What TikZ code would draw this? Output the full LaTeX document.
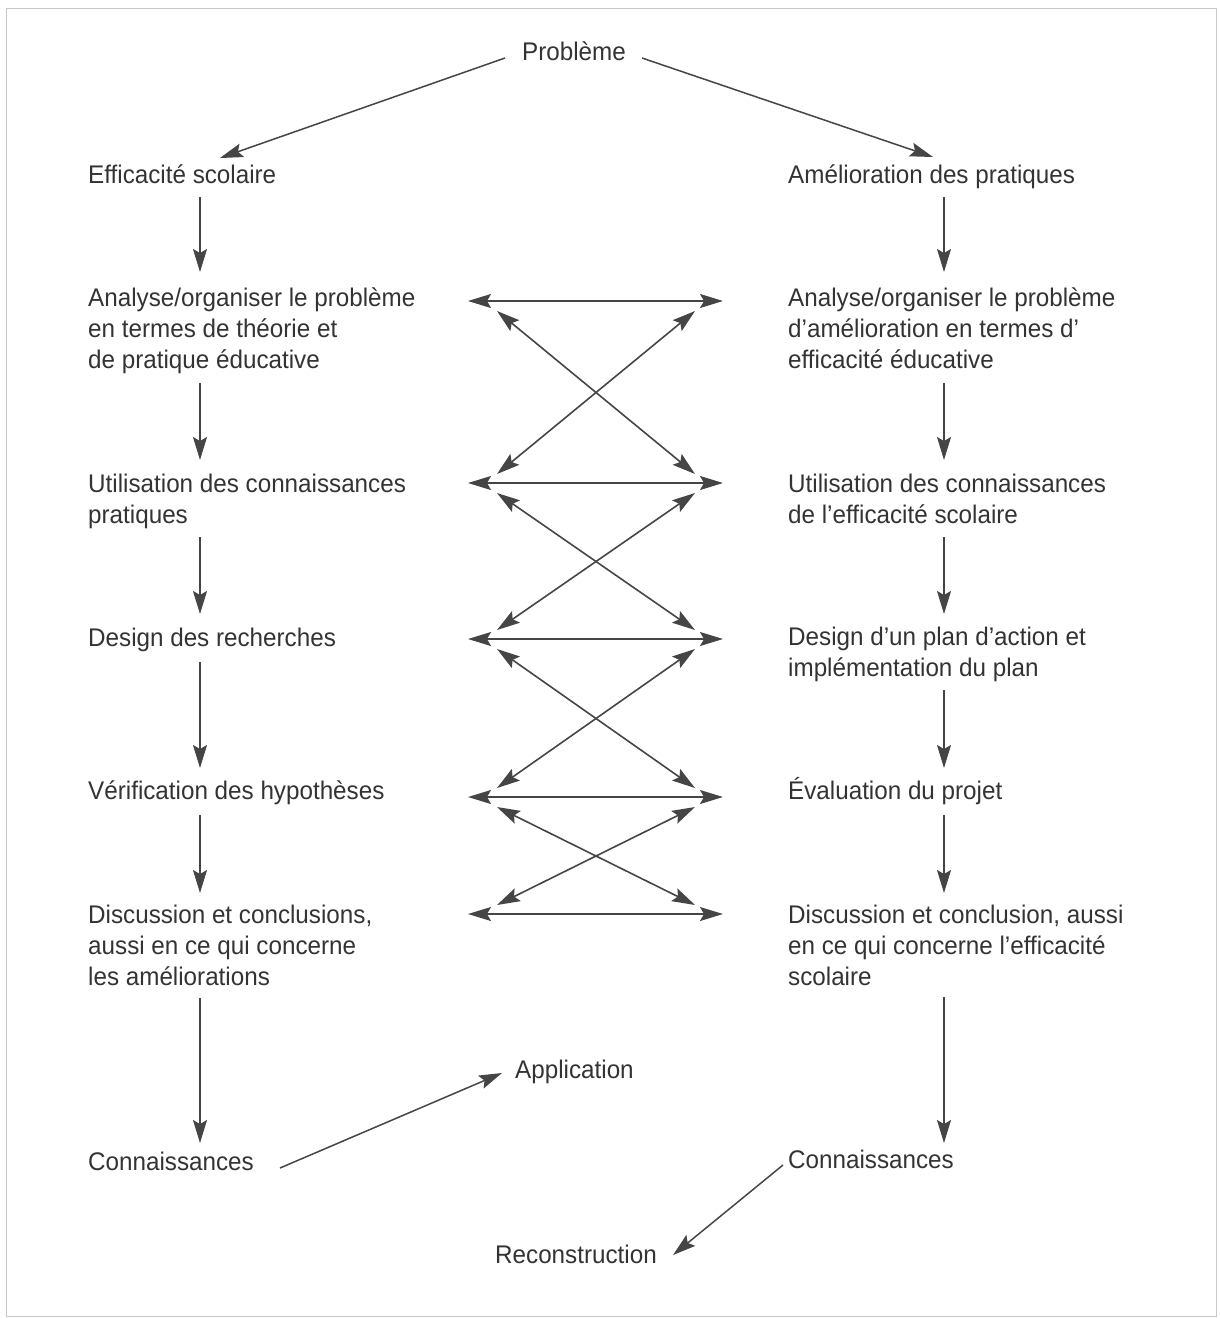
\documentclass[tikz,border=0pt]{standalone}
\usepackage{fontspec}
\setmainfont[FakeStretch=0.95]{Liberation Sans}
\usetikzlibrary{arrows.meta,calc}
\definecolor{ink}{HTML}{333333}
\definecolor{lineink}{HTML}{454545}
\definecolor{framec}{HTML}{C8C8C8}
\begin{document}
\begin{tikzpicture}[x=1pt,y=-1pt,
  lbl/.style={anchor=base west,inner sep=0pt,align=left,text=ink,font=\fontsize{25.5}{31}\selectfont},
  tip/.tip={Stealth[length=23pt,width=14pt,inset=4pt]},
  arr/.style={draw=lineink,line width=1.5pt,-tip},
  darr/.style={draw=lineink,line width=1.6pt,tip-tip}]
\useasboundingbox (0,0) rectangle (1219,1318);
\draw[framec,line width=1pt] (6,8) rectangle (1216,1316);

% columns
\coordinate (colL) at (200,0);
\coordinate (colR) at (944,0);

% texts (multi-line nodes are placed by the baseline of their last line)
\node[lbl] (prob) at (522,60) {Problème};
\node[lbl] (effL) at (88,183) {Efficacité scolaire};
\node[lbl] (effR) at (788,183) {Amélioration des pratiques};
\node[lbl] (anaL) at (88,368) {Analyse/organiser le problème\\en termes de théorie et\\de pratique éducative};
\node[lbl] (anaR) at (788,368) {Analyse/organiser le problème\\d’amélioration en termes d’\\efficacité éducative};
\node[lbl] (utiL) at (88,523) {Utilisation des connaissances\\pratiques};
\node[lbl] (utiR) at (788,523) {Utilisation des connaissances\\de l’efficacité scolaire};
\node[lbl] (desL) at (88,646) {Design des recherches};
\node[lbl] (desR) at (788,676) {Design d’un plan d’action et\\implémentation du plan};
\node[lbl] (verL) at (88,799) {Vérification des hypothèses};
\node[lbl] (verR) at (788,799) {Évaluation du projet};
\node[lbl] (disL) at (88,985) {Discussion et conclusions,\\aussi en ce qui concerne\\les améliorations};
\node[lbl] (disR) at (788,985) {Discussion et conclusion, aussi\\en ce qui concerne l’efficacité\\scolaire};
\node[lbl] (conL) at (88,1170) {Connaissances};
\node[lbl] (conR) at (788,1168) {Connaissances};
\node[lbl] (app) at (515,1078) {Application};
\node[lbl] (rec) at (495,1263) {Reconstruction};

% top arrows
\draw[arr] ($(prob.base west)+(-17,-2)$) -- ($(effL.base west)+(132,-25)$);
\draw[arr] ($(prob.base west)+(120,-2)$) -- ($(effR.base west)+(145,-26)$);

% left column
\draw[arr] ($(effL.base west -| colL)+(0,14)$) -- ($(anaL.base west -| colL)+(0,-96)$);
\draw[arr] ($(anaL.base west -| colL)+(0,15)$) -- ($(utiL.base west -| colL)+(0,-63)$);
\draw[arr] ($(utiL.base west -| colL)+(0,14)$) -- ($(desL.base west -| colL)+(0,-32)$);
\draw[arr] ($(desL.base west -| colL)+(0,16)$) -- ($(verL.base west -| colL)+(0,-31)$);
\draw[arr] ($(verL.base west -| colL)+(0,16)$) -- ($(disL.base west -| colL)+(0,-92)$);
\draw[arr] ($(disL.base west -| colL)+(0,13)$) -- ($(conL.base west -| colL)+(0,-27)$);

% right column
\draw[arr] ($(effR.base west -| colR)+(0,14)$) -- ($(anaR.base west -| colR)+(0,-96)$);
\draw[arr] ($(anaR.base west -| colR)+(0,15)$) -- ($(utiR.base west -| colR)+(0,-63)$);
\draw[arr] ($(utiR.base west -| colR)+(0,14)$) -- ($(desR.base west -| colR)+(0,-62)$);
\draw[arr] ($(desR.base west -| colR)+(0,14)$) -- ($(verR.base west -| colR)+(0,-31)$);
\draw[arr] ($(verR.base west -| colR)+(0,16)$) -- ($(disR.base west -| colR)+(0,-92)$);
\draw[arr] ($(disR.base west -| colR)+(0,12)$) -- ($(conR.base west -| colR)+(0,-25)$);

% middle exchanges
\foreach \i/\y in {1/301,2/483,3/639,4/797,5/914}{
  \coordinate (hl\i) at (468,\y);
  \coordinate (hr\i) at (723,\y);
  \draw[darr] (hl\i) -- (hr\i);
}
\foreach \i/\a/\b in {1/301/483,2/483/639,3/639/797,4/797/914}{
  \coordinate (ul\i) at (497,\a+10);
  \coordinate (ur\i) at (695,\a+10);
  \coordinate (dl\i) at (497,\b-9);
  \coordinate (dr\i) at (695,\b-9);
  \draw[darr] (ul\i) -- (dr\i);
  \draw[darr] (ur\i) -- (dl\i);
}

% bottom arrows
\draw[arr] ($(conL.base west)+(192,-2)$) -- ($(app.base west)+(-13,-5)$);
\draw[arr] ($(conR.base west)+(-5,-3)$) -- ($(rec.base west)+(178,-8)$);
\end{tikzpicture}
\end{document}
